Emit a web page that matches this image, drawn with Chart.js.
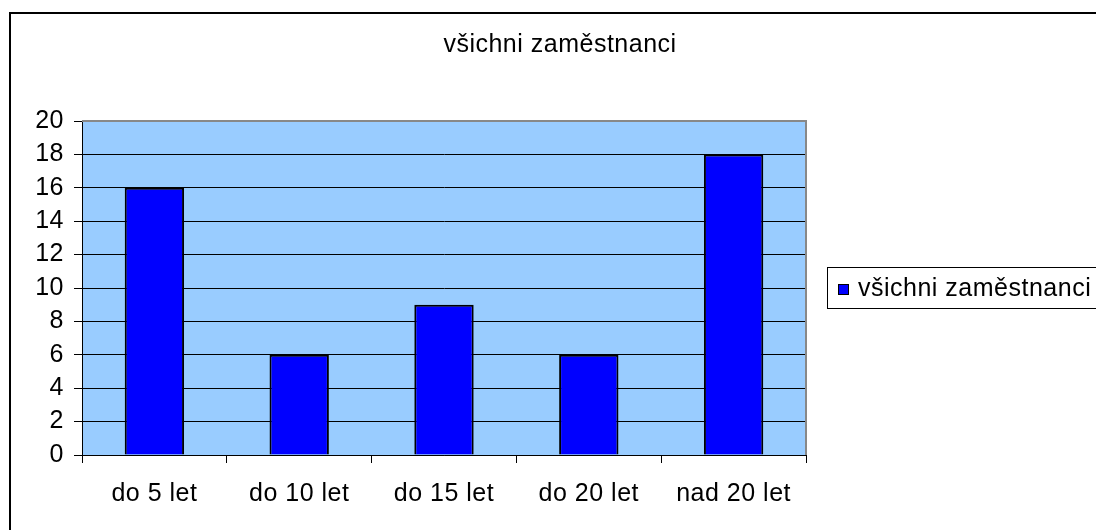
<!DOCTYPE html>
<html><head><meta charset="utf-8">
<script src="https://cdn.jsdelivr.net/npm/chart.js@4"></script>
<style>
html,body{margin:0;padding:0;background:#fff;}
#wrap{position:relative;width:1096px;height:530px;overflow:hidden;}
canvas{position:absolute;left:0;top:0;}
</style></head>
<body><div id="wrap"><canvas id="c" width="1096" height="530"></canvas></div>
<script>
const categories = ["do 5 let", "do 10 let", "do 15 let", "do 20 let", "nad 20 let"];
const values = [16, 6, 9, 6, 18];
const seriesName = "všichni zaměstnanci";
const chartTitle = "všichni zaměstnanci";
const yTicks = [0, 2, 4, 6, 8, 10, 12, 14, 16, 18, 20];

const FONT = "'Liberation Sans', Arial, sans-serif";
const FS = 25;
const PL = 82, PT = 121, PR = 806, PB = 455;

const decor = {
  id: 'decor',
  beforeDraw(chart) {
    const ctx = chart.ctx;
    ctx.save();
    ctx.fillStyle = '#fff';
    ctx.fillRect(0, 0, chart.width, chart.height);
    const a = chart.chartArea;
    ctx.fillStyle = '#99CCFF';
    ctx.fillRect(a.left, a.top, a.right - a.left, a.bottom - a.top);
    ctx.restore();
    ctx.letterSpacing = '0.5px';
  },
  afterDraw(chart) {
    const ctx = chart.ctx;
    const a = chart.chartArea;
    ctx.save();
    ctx.letterSpacing = '0.5px';
    // outer frame (left + top only visible)
    ctx.strokeStyle = '#000';
    ctx.lineWidth = 2;
    ctx.beginPath();
    ctx.moveTo(10, 540);
    ctx.lineTo(10, 13);
    ctx.lineTo(1100, 13);
    ctx.stroke();
    // plot area gray top/right border
    ctx.strokeStyle = '#888';
    ctx.lineWidth = 2;
    ctx.beginPath();
    ctx.moveTo(a.left, a.top);
    ctx.lineTo(a.right, a.top);
    ctx.lineTo(a.right, a.bottom);
    ctx.stroke();
    // title
    ctx.fillStyle = '#000';
    ctx.font = FS + 'px ' + FONT;
    ctx.textAlign = 'center';
    ctx.textBaseline = 'middle';
    ctx.fillText(chartTitle, 560, 45);
    // legend
    const ds = chart.data.datasets[0];
    ctx.strokeStyle = '#000';
    ctx.lineWidth = 1;
    ctx.strokeRect(827.5, 267.5, 300, 41);
    ctx.fillStyle = ds.backgroundColor;
    ctx.fillRect(838, 284, 11, 11);
    ctx.strokeRect(838.5, 284.5, 10, 10);
    ctx.fillStyle = '#000';
    ctx.textAlign = 'left';
    ctx.fillText(ds.label, 858, 289);
    ctx.restore();
  }
};

new Chart(document.getElementById('c'), {
  type: 'bar',
  data: {
    labels: categories,
    datasets: [{
      label: seriesName,
      data: values,
      backgroundColor: '#0000FF',
      borderColor: '#000',
      borderWidth: 2,
      categoryPercentage: 1,
      barPercentage: 0.41
    }]
  },
  options: {
    responsive: false,
    animation: false,
    devicePixelRatio: 1,
    layout: { padding: { left: 0, top: PT, right: 1096 - PR, bottom: 0 } },
    plugins: { legend: { display: false }, title: { display: false }, tooltip: { enabled: false } },
    scales: {
      x: {
        offset: true,
        afterFit(s) { s.height = 530 - PB; },
        grid: { offset: true, drawOnChartArea: false, drawTicks: true, tickLength: 8, color: '#000', lineWidth: 1 },
        border: { display: true, color: '#000', width: 1 },
        ticks: { color: '#000', font: { family: FONT, size: FS }, padding: 16, maxRotation: 0 }
      },
      y: {
        min: 0, max: 20,
        afterFit(s) { s.width = PL; },
        afterBuildTicks(s) { s.ticks = yTicks.map(v => ({ value: v })); },
        grid: { color: '#000', lineWidth: 1, drawTicks: true, tickLength: 8 },
        border: { display: true, color: '#000', width: 1 },
        ticks: { color: '#000', font: { family: FONT, size: FS }, padding: 10 }
      }
    }
  },
  plugins: [decor]
});
</script></body></html>
